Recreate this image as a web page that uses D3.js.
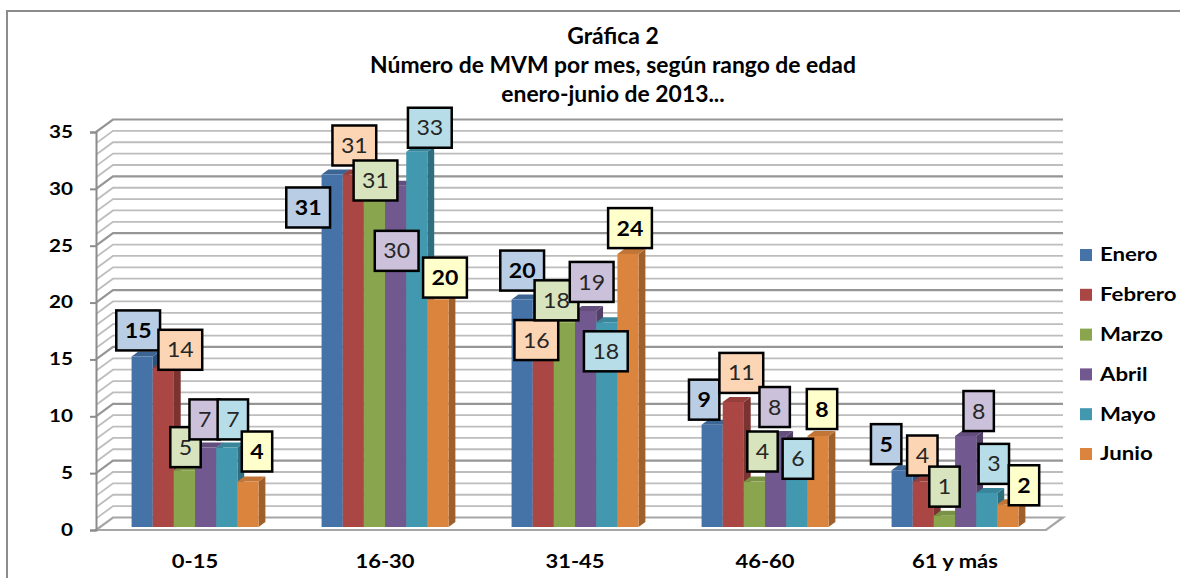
<!DOCTYPE html>
<html lang="es">
<head>
<meta charset="utf-8">
<script src="https://d3js.org/d3.v7.min.js"></script>
<style>
  body { margin: 0; background: #fff; }
  text { font-family: "Lato", "Open Sans", sans-serif; }
</style>
</head>
<body>
<script>
// datos
var categories = ["0-15", "16-30", "31-45", "46-60", "61 y más"];
var series = ["Enero", "Febrero", "Marzo", "Abril", "Mayo", "Junio"];
var enero   = [15, 31, 20, 9, 5];
var febrero = [14, 31, 16, 11, 4];
var marzo   = [5, 31, 18, 4, 1];
var abril   = [7, 30, 19, 8, 8];
var mayo    = [7, 33, 18, 6, 3];
var junio   = [4, 20, 24, 8, 2];
var yTicks  = [0, 5, 10, 15, 20, 25, 30, 35];
var titleLines = ["Gráfica 2", "Número de MVM por mes, según rango de edad", "enero-junio de 2013..."];

var values = [enero, febrero, marzo, abril, mayo, junio];

// layout / style (not data)
var colors = ["#4572a7", "#aa4643", "#89a54e", "#71588f", "#4198af", "#db843d"];
var labelFill = ["#b9cde5", "#fcd5b5", "#d7e4bd", "#ccc1da", "#b7dee8", "#ffffcc"];
var labelBold = [true, false, false, false, false, true];
// manual nudges of the data labels [dx, dy] from the bar top, per series x category
var labelShift = [
  [[-4, -26], [-24, 33], [0, -29], [-8, -25], [-16, -26]],
  [[17, -18], [1, -29], [-7, -5], [8, -29], [-1, -26]],
  [[1, -23], [1, 6], [-8, -22], [8, -30], [0, -29]],
  [[-1, -28], [1, 65], [6, -29], [-1, -29], [13, -25]],
  [[6, -28], [13, -24], [-1, 29], [1, 0], [7, -29]],
  [[9, -30], [7, -22], [2, -26], [4, -27], [16, -19]]
];

var width = 1180, height = 578;
var DX = 17, DY = 12.5;      // full depth offset of the 3d box
var z0 = 0.24, z1 = 0.64;    // bar depth range

var svg = d3.select("body").append("svg")
    .attr("width", width)
    .attr("height", height);

// outer chart border
svg.append("path")
    .attr("d", "M7," + height + "V11H" + width)
    .attr("fill", "none")
    .attr("stroke", "#8c8c8c")
    .attr("stroke-width", 2);

var x0 = d3.scaleBand().domain(categories).range([96, 1046]);
var x1 = d3.scaleBand().domain(series).range([31.5, 158.5]);
var y = d3.scaleLinear().domain([0, 35]).range([530, 132]);

function proj(px, v, z) {
  return [px + z * DX, y(v) - z * DY];
}
function poly(pts) {
  return "M" + pts.map(function (p) { return p[0] + "," + p[1]; }).join("L") + "Z";
}

// floor
svg.append("path")
    .attr("d", poly([proj(96, 0, 0), proj(1046, 0, 0), proj(1046, 0, 1), proj(96, 0, 1)]))
    .attr("fill", "#fff")
    .attr("stroke", "#a6a6a6")
    .attr("stroke-width", 2.2);

// gridlines, one per unit, darker every 5
var grid = svg.append("g");
y.ticks(35).forEach(function (t) {
  if (t === 0) return;
  var major = t % 5 === 0;
  var a = proj(96, t, 0), b = proj(96, t, 1), c = proj(1046, t, 1);
  grid.append("path")
      .attr("d", "M" + a + "L" + b + "L" + c)
      .attr("fill", "none")
      .attr("stroke", major ? "#969696" : "#bdbdbd")
      .attr("stroke-width", major ? 2.2 : 1.8);
});

// y axis
var yAxis = svg.append("g")
    .attr("transform", "translate(96,0)")
    .call(d3.axisLeft(y).tickValues(yTicks).tickSize(6).tickPadding(17));
yAxis.select(".domain").attr("stroke", "#8c8c8c").attr("stroke-width", 2);
yAxis.selectAll(".tick line").attr("stroke", "#8c8c8c").attr("stroke-width", 2);
yAxis.selectAll(".tick text")
    .attr("x", 0)
    .attr("transform", "translate(-23,0) scale(1.25,1)")
    .attr("font-family", "Lato, sans-serif")
    .attr("font-size", 16.5)
    .attr("font-weight", "bold")
    .attr("fill", "#000");

// x axis labels
var xAxis = svg.append("g")
    .attr("transform", "translate(4,530)")
    .call(d3.axisBottom(x0).tickSize(0).tickPadding(25));
xAxis.select(".domain").remove();
xAxis.selectAll(".tick text")
    .attr("transform", "scale(1.22,1)")
    .attr("font-family", "Lato, sans-serif")
    .attr("font-size", 18)
    .attr("font-weight", "bold")
    .attr("fill", "#000");

// bars (drawn left to right so each hides the side of the previous one)
var bars = svg.append("g");
categories.forEach(function (cat, k) {
  series.forEach(function (s, i) {
    var v = values[i][k];
    var xl = x0(cat) + x1(s), xr = xl + x1.bandwidth();
    var col = d3.color(colors[i]);
    bars.append("path")
        .attr("d", poly([proj(xr, 0, z0), proj(xr, v, z0), proj(xr, v, z1), proj(xr, 0, z1)]))
        .attr("fill", col.darker(0.9));
    bars.append("path")
        .attr("d", poly([proj(xl, v, z0), proj(xr, v, z0), proj(xr, v, z1), proj(xl, v, z1)]))
        .attr("fill", col.darker(0.35));
    bars.append("path")
        .attr("d", poly([proj(xl, 0, z0), proj(xr, 0, z0), proj(xr, v, z0), proj(xl, v, z0)]))
        .attr("fill", col);
  });
});

// data labels
var labels = svg.append("g");
series.forEach(function (s, i) {
  categories.forEach(function (cat, k) {
    var v = values[i][k];
    var top = proj(x0(cat) + x1(s) + x1.bandwidth() / 2, v, z0);
    var cx = top[0] + labelShift[i][k][0], cy = top[1] + labelShift[i][k][1];
    var g = labels.append("g").attr("transform", "translate(" + cx + "," + cy + ")");
    var rect = g.append("rect");
    var t = g.append("text")
        .attr("text-anchor", "middle")
        .attr("dy", "0.36em")
        .attr("transform", "scale(1.1,1)")
        .attr("font-size", 21)
        .attr("font-weight", labelBold[i] ? "bold" : "normal")
        .attr("fill", labelBold[i] ? "#000" : "#262626")
        .text(v);
    var w = t.node().getComputedTextLength() * 1.1 + 17, h = 40;
    rect.attr("x", -w / 2).attr("y", -h / 2)
        .attr("width", w).attr("height", h)
        .attr("fill", labelFill[i])
        .attr("stroke", "#000")
        .attr("stroke-width", 2.5);
  });
});

// legend
var legend = svg.append("g");
series.forEach(function (s, i) {
  var cy = 255 + i * 39.8;
  legend.append("rect")
      .attr("x", 1080).attr("y", cy - 6)
      .attr("width", 12).attr("height", 12)
      .attr("fill", colors[i]);
  legend.append("text")
      .attr("transform", "translate(1100," + cy + ") scale(1.2,1)")
      .attr("dy", "0.35em")
      .attr("font-size", 18.5)
      .attr("font-weight", "bold")
      .text(s);
});

// title
svg.append("g").selectAll("text")
  .data(titleLines)
  .enter().append("text")
    .attr("transform", function (d, i) { return "translate(613," + (44 + i * 29) + ") scale(1.04,1)"; })
    .attr("text-anchor", "middle")
    .attr("font-size", 22)
    .attr("font-weight", "bold")
    .text(function (d) { return d; });
</script>
</body>
</html>
